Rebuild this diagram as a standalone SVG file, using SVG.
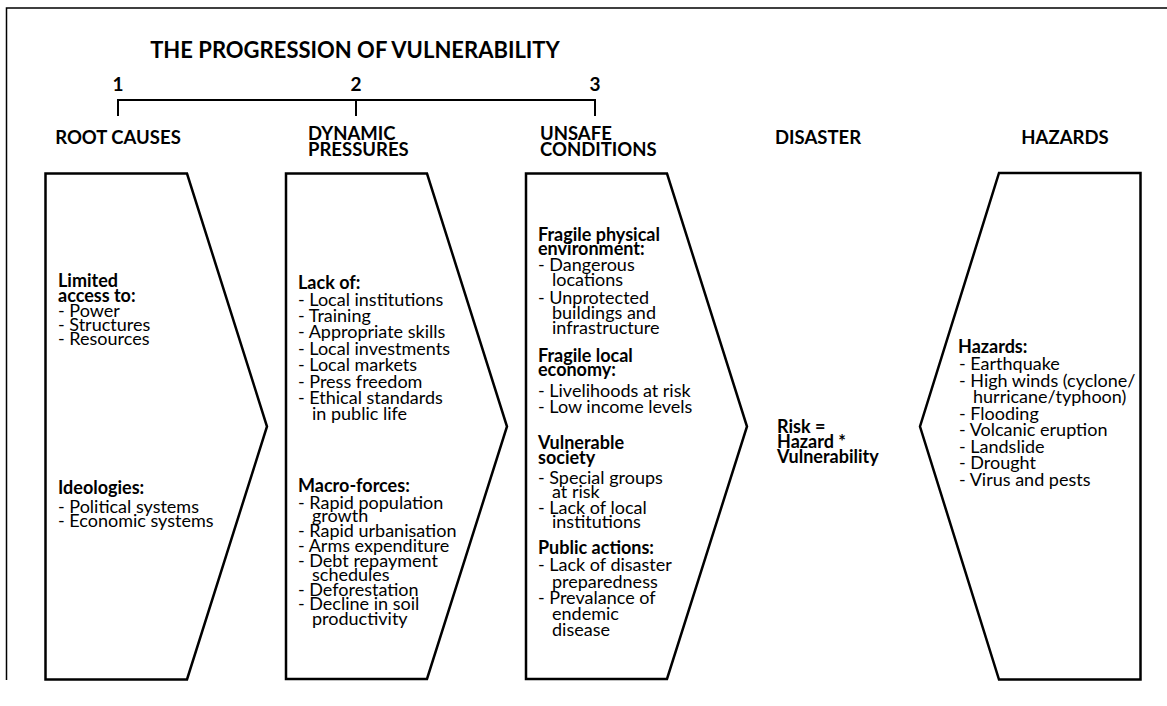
<svg xmlns="http://www.w3.org/2000/svg" width="1167" height="706" viewBox="0 0 1167 706">
  <style>
    .frame { fill: none; stroke: #000; stroke-width: 1.5; }
    .box { fill: #fff; stroke: #000; stroke-width: 2.5; stroke-linejoin: miter; }
    .bracket { fill: none; stroke: #000; stroke-width: 2; }
    text { font-family: Lato, "Liberation Sans", sans-serif; fill: #000; }
    .t { font-size: 18px; }
    .b { font-size: 18px; font-weight: bold; }
    .hd { font-size: 18.5px; font-weight: bold; }
    .num { font-size: 19px; font-weight: bold; }
    .ti { font-size: 22px; font-weight: bold; }
    .c { text-anchor: middle; }
  </style>

  <rect width="1167" height="706" fill="#fff"/>
  <!-- page frame: top and left rules -->
  <path class="frame" d="M1167,8 L6.5,8 L6.5,680"/>

  <!-- heading and numbered scale -->
  <text class="ti c" x="355" y="58">THE PROGRESSION OF VULNERABILITY</text>
  <text class="num c" x="118" y="91">1</text>
  <text class="num c" x="356" y="91">2</text>
  <text class="num c" x="595" y="91">3</text>

  <g id="connectors">
    <path class="bracket" d="M118,116 L118,100 L595,100 L595,116 M356,100 L356,116"/>
  </g>

  <!-- column captions -->
  <text class="hd c" x="118" y="144">ROOT CAUSES</text>
  <text class="hd" x="308" y="139.5">DYNAMIC<tspan x="308" y="156">PRESSURES</tspan></text>
  <text class="hd" x="540" y="139.5">UNSAFE<tspan x="540" y="156">CONDITIONS</tspan></text>
  <text class="hd c" x="818" y="144">DISASTER</text>
  <text class="hd c" x="1065" y="144">HAZARDS</text>

  <g id="root-causes">
    <path class="box" d="M45.5,173.5 L187,173.5 L267,426.5 L187,679.5 L45.5,679.5 Z"/>
    <text class="b" x="58" y="287">Limited<tspan x="58" y="302">access to:</tspan></text>
    <text class="t" x="58" y="317">- Power<tspan x="58" y="331">- Structures</tspan><tspan x="58" y="345">- Resources</tspan></text>
    <text class="b" x="58" y="494">Ideologies:</text>
    <text class="t" x="58" y="512.5">- Political systems<tspan x="58" y="527">- Economic systems</tspan></text>
  </g>

  <g id="dynamic-pressures">
    <path class="box" d="M286,173.5 L427,173.5 L507,426.5 L427,679 L286,679 Z"/>
    <text class="b" x="298" y="289">Lack of:</text>
    <text class="t">
      <tspan x="298" y="306">- Local institutions</tspan>
      <tspan x="298" y="322">- Training</tspan>
      <tspan x="298" y="338">- Appropriate skills</tspan>
      <tspan x="298" y="355">- Local investments</tspan>
      <tspan x="298" y="371">- Local markets</tspan>
      <tspan x="298" y="388">- Press freedom</tspan>
      <tspan x="298" y="404">- Ethical standards</tspan>
      <tspan x="312" y="420">in public life</tspan>
    </text>
    <text class="b" x="298" y="492">Macro-forces:</text>
    <text class="t">
      <tspan x="298" y="509">- Rapid population</tspan>
      <tspan x="312" y="522">growth</tspan>
      <tspan x="298" y="537">- Rapid urbanisation</tspan>
      <tspan x="298" y="552">- Arms expenditure</tspan>
      <tspan x="298" y="567">- Debt repayment</tspan>
      <tspan x="312" y="581">schedules</tspan>
      <tspan x="298" y="596">- Deforestation</tspan>
      <tspan x="298" y="610">- Decline in soil</tspan>
      <tspan x="312" y="625">productivity</tspan>
    </text>
  </g>

  <g id="unsafe-conditions">
    <path class="box" d="M526,173.5 L667,173.5 L747,426.5 L667,679 L526,679 Z"/>
    <text class="b" x="538" y="240.5">Fragile physical<tspan x="538" y="254.5">environment:</tspan></text>
    <text class="t">
      <tspan x="538" y="271">- Dangerous</tspan>
      <tspan x="552" y="286">locations</tspan>
      <tspan x="538" y="303.5">- Unprotected</tspan>
      <tspan x="552" y="318.5">buildings and</tspan>
      <tspan x="552" y="333.5">infrastructure</tspan>
    </text>
    <text class="b" x="538" y="361.5">Fragile local<tspan x="538" y="375.5">economy:</tspan></text>
    <text class="t">
      <tspan x="538" y="396.5">- Livelihoods at risk</tspan>
      <tspan x="538" y="413">- Low income levels</tspan>
    </text>
    <text class="b" x="538" y="449">Vulnerable<tspan x="538" y="464">society</tspan></text>
    <text class="t">
      <tspan x="538" y="484">- Special groups</tspan>
      <tspan x="552" y="498">at risk</tspan>
      <tspan x="538" y="513.5">- Lack of local</tspan>
      <tspan x="552" y="527.5">institutions</tspan>
    </text>
    <text class="b" x="538" y="554">Public actions:</text>
    <text class="t">
      <tspan x="538" y="571">- Lack of disaster</tspan>
      <tspan x="552" y="587.5">preparedness</tspan>
      <tspan x="538" y="604">- Prevalance of</tspan>
      <tspan x="552" y="620">endemic</tspan>
      <tspan x="552" y="636">disease</tspan>
    </text>
  </g>

  <g id="disaster">
    <text class="b" x="777" y="433">Risk =<tspan x="777" y="448">Hazard *</tspan><tspan x="777" y="462.5">Vulnerability</tspan></text>
  </g>

  <g id="hazards">
    <path class="box" d="M999,173 L1140.5,173 L1140.5,679.5 L999,679.5 L920,426.5 Z"/>
    <text class="b" x="958" y="353">Hazards:</text>
    <text class="t">
      <tspan x="959" y="369.5">- Earthquake</tspan>
      <tspan x="959" y="386.5">- High winds (cyclone/</tspan>
      <tspan x="973" y="403">hurricane/typhoon)</tspan>
      <tspan x="959" y="419.5">- Flooding</tspan>
      <tspan x="959" y="436">- Volcanic eruption</tspan>
      <tspan x="959" y="452.5">- Landslide</tspan>
      <tspan x="959" y="469">- Drought</tspan>
      <tspan x="959" y="485.5">- Virus and pests</tspan>
    </text>
  </g>
</svg>
